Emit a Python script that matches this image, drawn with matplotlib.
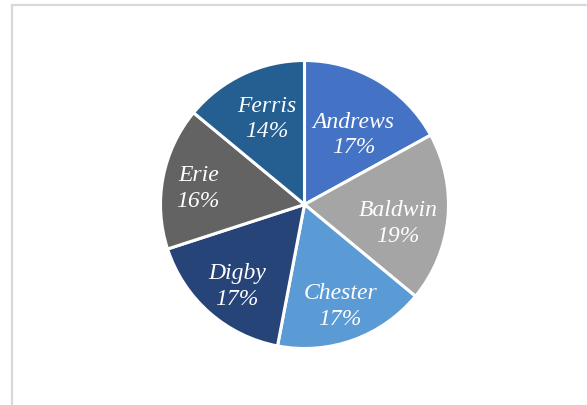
import numpy as np
import matplotlib.pyplot as plt
from matplotlib.lines import Line2D

plt.rcParams["font.family"] = ["Liberation Serif", "DejaVu Serif"]

NAMES = ["Andrews", "Baldwin", "Chester", "Digby", "Erie", "Ferris"]
SHARES = [17, 19, 17, 17, 16, 14]
COLORS = ["#4472C4", "#A5A5A5", "#5B9BD5", "#264478", "#636363", "#255E91"]
# label placement: fraction of radius and angular nudge (deg) from slice middle
LABEL_R = [0.61, 0.66, 0.73, 0.72, 0.75, 0.67]
LABEL_DA = [-3.5, -4.0, 0.0, 1.0, 0.5, -2.0]

W, H = 587, 406
fig = plt.figure(figsize=(W / 100, H / 100), dpi=100)

# chart frame (only top and left edges visible in the crop)
fig.add_artist(Line2D([11.5 / W, 11.5 / W], [0, (H - 5.5) / H], transform=fig.transFigure,
                      color="#d9d9d9", linewidth=1.6))
fig.add_artist(Line2D([11.5 / W, 1], [(H - 5.5) / H, (H - 5.5) / H], transform=fig.transFigure,
                      color="#d9d9d9", linewidth=1.6))

cx, cy, r = 304.5, 406 - 205.5, 144
ax = fig.add_axes([(cx - r) / W, (cy - r) / H, 2 * r / W, 2 * r / H])

labels = [f"{n}\n{s}%" for n, s in zip(NAMES, SHARES)]
wedges, texts = ax.pie(SHARES, colors=COLORS, startangle=90, counterclock=False,
                       labels=labels, labeldistance=0.65,
                       wedgeprops=dict(edgecolor="white", linewidth=2.2),
                       textprops=dict(color="white", fontsize=17, style="italic",
                                      ha="center", va="center", linespacing=1.3))
for w, t, d, da in zip(wedges, texts, LABEL_R, LABEL_DA):
    ang = np.deg2rad((w.theta1 + w.theta2) / 2 + da)
    t.set_position((d * np.cos(ang), d * np.sin(ang) - 0.015))
    t.set_ha("center")

ax.set_xlim(-1, 1)
ax.set_ylim(-1, 1)
ax.set_aspect("equal")
ax.axis("off")

fig.savefig("out.png", dpi=100)
